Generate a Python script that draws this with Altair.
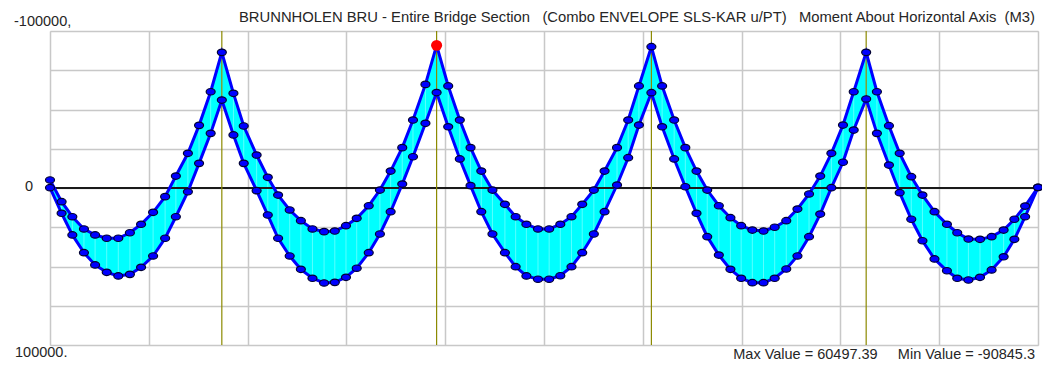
import altair as alt
import pandas as pd

# ---- data (station x in m, envelope moments) ----
SPAN1_X = [0.0, 2.7, 5.2, 7.9, 10.5, 13.2, 15.9, 18.6, 21.2, 24.0, 26.8, 29.3, 32.1, 34.7, 37.4, 40.0]
SPAN1_MIN = [-5100, 8700, 18300, 26100, 29900, 32000, 32000, 28500, 23100, 15500, 5500, -7600, -22100, -39900, -61300, -86400]
SPAN1_MAX = [-200, 16100, 29900, 41200, 49000, 53700, 56000, 55000, 50500, 43300, 32000, 18300, 2400, -15700, -34800, -56000]

SPAN2_X = [42.7, 45.1, 48.1, 50.7, 53.1, 55.8, 58.4, 61.1, 63.8, 66.3, 68.9, 71.4, 74.2, 76.8, 79.3, 82.0, 84.5, 87.4, 90.0]
SPAN2_MIN = [-60300, -39500, -21000, -6800, 4500, 14000, 20800, 26100, 27800, 27400, 24000, 19300, 11300, 1300, -10800, -25700, -43300, -66000, -90845.3]
SPAN2_MAX = [-33800, -15700, 1700, 17200, 32000, 43300, 51800, 57500, 60497.39, 60100, 56900, 51100, 41200, 29300, 15100, -2500, -19900, -41200, -60800]

SPAN3_X = [92.7, 95.4, 97.9, 100.4, 103.0, 105.9, 108.4, 110.9, 113.6, 116.2, 118.8, 121.4, 123.9, 126.6, 129.1, 132.0, 134.6, 137.1, 140.0]
SPAN3_MIN = [-65000, -43300, -25700, -10800, 1300, 10400, 18300, 23100, 26100, 26100, 23100, 18300, 10400, 1300, -10800, -25700, -43300, -65000, -90000]
SPAN3_MAX = [-39000, -18500, -1500, 15100, 29300, 41200, 50100, 56000, 58100, 58100, 55900, 50100, 41200, 29300, 15100, -1900, -19300, -40100, -60700]

SPAN4_X = [142.5, 145.3, 147.9, 150.5, 153.0, 155.7, 158.4, 160.9, 163.5, 166.1, 168.7, 171.4, 174.0, 176.7, 179.3, 181.9, 184.6, 187.1, 190.0]
SPAN4_MIN = [-65000, -43300, -25700, -10800, 1300, 11300, 18900, 24000, 26800, 27400, 25000, 20800, 13400, 3800, -7600, -22100, -40100, -61300, -86400]
SPAN4_MAX = [-39000, -18500, -800, 16100, 31000, 42700, 51800, 57500, 60300, 60300, 57500, 51600, 43300, 31000, 16600, -200, -16400, -36900, -56700]

SPAN5_X = [192.5, 195.3, 197.8, 200.5, 203.1, 205.9, 208.8, 211.2, 213.8, 216.5, 219.2, 222.0, 224.5, 227.0, 230.0]
SPAN5_MIN = [-61300, -39700, -22100, -7200, 4500, 15100, 23100, 28500, 32500, 32700, 31000, 26800, 19900, 11500, -400]
SPAN5_MAX = [-34800, -14600, 3000, 19900, 33600, 45200, 52700, 57500, 58600, 56900, 52200, 43800, 32700, 18300, -400]

SUPPORTS = [40, 90, 140, 190]
GRID_X = [0, 23, 46, 69, 92, 115, 138, 161, 184, 207, 230]
GRID_Y = [-100000, -75000, -50000, -25000, 0, 25000, 50000, 75000, 100000]
MAX_VALUE = 60497.39
MIN_VALUE = -90845.3
MIN_AT_X = 90.0

SP3 = "\u00a0" * 3
TITLE = ("BRUNNHOLEN BRU - Entire Bridge Section" + SP3 + "(Combo ENVELOPE SLS-KAR u/PT)" + SP3 +
         "Moment About Horizontal Axis" + "\u00a0\u00a0" + "(M3)")
FOOTER = f"Max Value = {MAX_VALUE}" + "\u00a0" * 5 + f"Min Value = {MIN_VALUE}"

# ---- tables ----
rows = []
for xs_, mins, maxs in [(SPAN1_X, SPAN1_MIN, SPAN1_MAX), (SPAN2_X, SPAN2_MIN, SPAN2_MAX),
                        (SPAN3_X, SPAN3_MIN, SPAN3_MAX), (SPAN4_X, SPAN4_MIN, SPAN4_MAX),
                        (SPAN5_X, SPAN5_MIN, SPAN5_MAX)]:
    for x, lo, hi in zip(xs_, mins, maxs):
        rows.append({"x": x, "mmin": lo, "mmax": hi})
df = pd.DataFrame(rows)
long = df.melt(id_vars="x", value_vars=["mmin", "mmax"], var_name="env", value_name="m")

xs = alt.Scale(domain=[0, 230], nice=False, zero=False)
ys = alt.Scale(domain=[-100000, 100000], reverse=True, nice=False, zero=False)
xaxis = alt.Axis(values=GRID_X, grid=True, labels=False, ticks=False, domain=False, title=None,
                 gridColor="#c8c8c8", gridWidth=1.5)
yaxis = alt.Axis(values=GRID_Y, grid=True, labels=False, ticks=False, domain=False, title=None,
                 gridColor="#c8c8c8", gridWidth=1.5)

X = alt.X("x:Q", scale=xs, axis=xaxis)

band = alt.Chart(df).mark_area(color="#00ffff", opacity=1).encode(
    x=X, y=alt.Y("mmin:Q", scale=ys, axis=yaxis), y2="mmax:Q")
stripes = alt.Chart(df).mark_rule(color="white", opacity=0.35, strokeWidth=1).encode(
    x=X, y=alt.Y("mmin:Q", scale=ys, axis=yaxis), y2="mmax:Q")
zero = alt.Chart(pd.DataFrame({"m": [0]})).mark_rule(color="#1a1a1a", strokeWidth=2).encode(
    y=alt.Y("m:Q", scale=ys, axis=yaxis))
sup = alt.Chart(pd.DataFrame({"x": SUPPORTS})).mark_rule(color="#8c8a00", strokeWidth=1.2).encode(x=X)
lines = alt.Chart(long).mark_line(color="#0000ff", strokeWidth=3).encode(
    x=X, y=alt.Y("m:Q", scale=ys, axis=yaxis), detail="env:N")
ELLIPSE = "M-1,0A1,0.72,0,1,1,1,0A1,0.72,0,1,1,-1,0Z"
dots = alt.Chart(long).mark_point(shape=ELLIPSE, filled=True, fill="#0000ff", stroke="#000033",
                                  strokeWidth=1.2, size=81, opacity=1).encode(
    x=X, y=alt.Y("m:Q", scale=ys, axis=yaxis))
red = alt.Chart(pd.DataFrame({"x": [MIN_AT_X], "m": [MIN_VALUE]})).mark_circle(
    color="#ff0000", size=120, opacity=1).encode(x=X, y=alt.Y("m:Q", scale=ys, axis=yaxis))

FONT = "Liberation Sans"
def label(text, x, y, align, size=14.5):
    return alt.Chart(pd.DataFrame({"t": [text]})).mark_text(
        align=align, baseline="middle", font=FONT, fontSize=size, color="#262626").encode(
        text="t:N", x=alt.value(x), y=alt.value(y))

chart = alt.layer(
    band, stripes, zero, sup, lines, dots, red,
    label(TITLE, 985, -13, "right", 14.8),
    label("-100000,", -36, -9, "left"),
    label("0", -17, 156, "right"),
    label("100000.", -35, 322, "left"),
    label(FOOTER, 985, 324, "right"),
).properties(
    width=988, height=314,
    padding={"left": 42, "top": 23, "right": 4, "bottom": 16},
    autosize=alt.AutoSizeParams(type="none"),
).configure_view(stroke="#c0c0c0", strokeWidth=2).configure(background="white")

chart.save("out.html", embed_options={"renderer": "svg", "actions": False})
